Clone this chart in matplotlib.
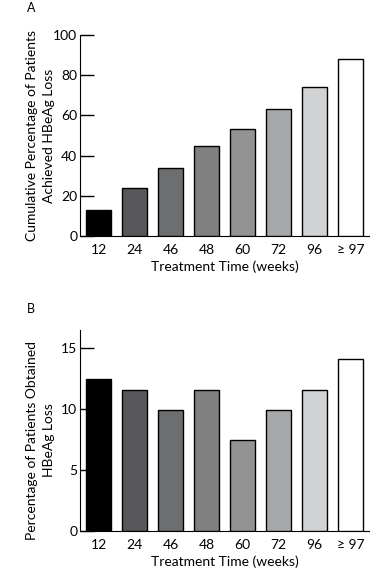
import matplotlib
matplotlib.use("Agg")
import matplotlib.pyplot as plt

plt.rcParams['font.family'] = ['Lato', 'DejaVu Sans']

weeks = ['12', '24', '46', '48', '60', '72', '96', '≥ 97']
cumulative = [13, 24, 34, 45, 53, 63, 74, 88]
per_period = [12.5, 11.6, 9.9, 11.6, 7.45, 9.9, 11.6, 14.1]
shades = ['#000000', '#58585a', '#6d6e70', '#808080', '#939393', '#a7a8aa', '#d1d2d3', '#ffffff']

fig = plt.figure(figsize=(3.81, 5.81), dpi=100)
axA = fig.add_axes([0.21, 0.5938, 0.7585, 0.346])
axB = fig.add_axes([0.21, 0.0866, 0.7585, 0.3454])


def style(ax, values, ylim, yticks, ylabel, label_y):
    x = range(len(values))
    ax.bar(x, values, width=0.7, color=shades, edgecolor='black', linewidth=1, zorder=3)
    ax.set_xlim(-0.52, 7.52)
    ax.set_ylim(*ylim)
    ax.set_yticks(yticks)
    ax.set_xticks(list(x))
    ax.set_xticklabels(weeks)
    ax.tick_params(axis='y', direction='in', length=10, width=1, labelsize=10, pad=2)
    ax.tick_params(axis='x', length=0, labelsize=10, pad=6)
    ax.spines['top'].set_visible(False)
    ax.spines['right'].set_visible(False)
    ax.set_axisbelow(True)
    ax.set_xlabel('Treatment Time (weeks)', fontsize=10, labelpad=3)
    ax.set_ylabel(ylabel, fontsize=10, linespacing=1.45)
    ax.yaxis.set_label_coords(-0.088, label_y)


style(axA, cumulative, (0, 100), [0, 20, 40, 60, 80, 100],
      'Cumulative Percentage of Patients\nAchieved HBeAg Loss', 0.5)
style(axB, per_period, (0, 16.5), [0, 5, 10, 15],
      'Percentage of Patients Obtained\nHBeAg Loss', 0.45)

fig.text(27 / 381, 1 - 12 / 581, 'A', fontsize=9)
fig.text(27 / 381, 1 - 313 / 581, 'B', fontsize=9)

fig.savefig('out.png', dpi=100, facecolor='white')
